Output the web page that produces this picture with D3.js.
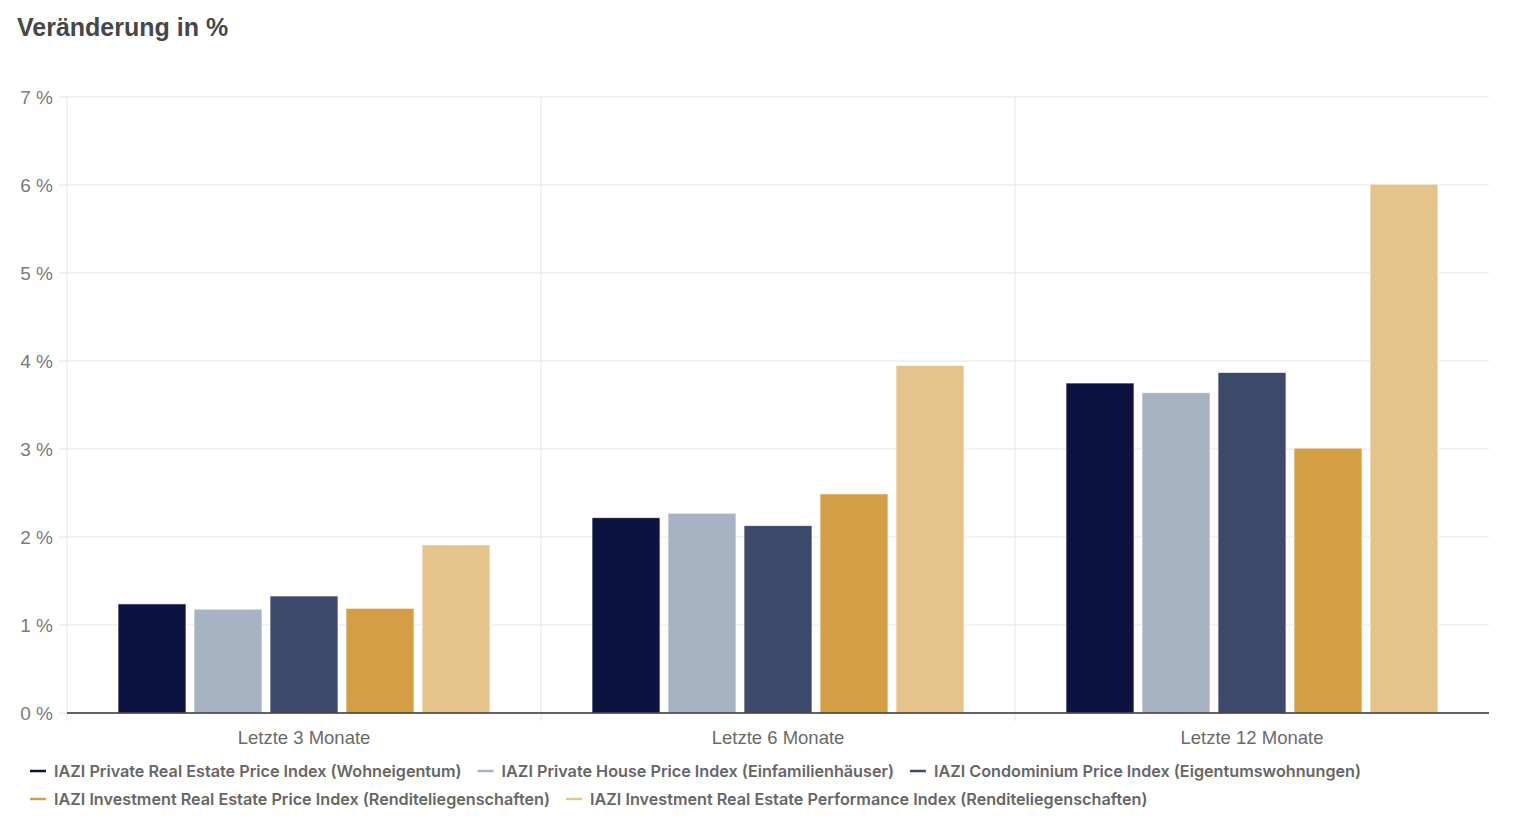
<!DOCTYPE html>
<html><head><meta charset="utf-8">
<script src="https://cdn.jsdelivr.net/npm/d3@7"></script>
<style>
body{margin:0;background:#fff;font-family:Roboto,"Noto Sans",sans-serif;}
</style></head>
<body><svg id="c" width="1515" height="823"></svg>
<script>
const categories = ["Letzte 3 Monate","Letzte 6 Monate","Letzte 12 Monate"];
const seriesNames = [
 "IAZI Private Real Estate Price Index (Wohneigentum)",
 "IAZI Private House Price Index (Einfamilienhäuser)",
 "IAZI Condominium Price Index (Eigentumswohnungen)",
 "IAZI Investment Real Estate Price Index (Renditeliegenschaften)",
 "IAZI Investment Real Estate Performance Index (Renditeliegenschaften)"
];
const privateRE = [1.24, 2.22, 3.75];
const privateHouse = [1.18, 2.27, 3.64];
const condo = [1.33, 2.13, 3.87];
const investPrice = [1.19, 2.49, 3.01];
const investPerf = [1.91, 3.95, 6.01];
const seriesValues = [privateRE, privateHouse, condo, investPrice, investPerf];
const colors = ["#0c1340","#a7b2c2","#3d4a6c","#d49e44","#e4c48a"];
const yTicks = [0,1,2,3,4,5,6,7];

const svg = d3.select("#c");
const m = {l:67, r:1489, t:97, b:713};
const x0 = d3.scaleBand().domain(categories).range([m.l, m.r]);
const x1 = d3.scaleBand().domain(d3.range(seriesNames.length)).range([0, x0.bandwidth()]).paddingInner(0.105).paddingOuter(0.671);
const y = d3.scaleLinear().domain([0,7]).range([m.b, m.t]);

svg.append("text").attr("x",17).attr("y",36).text("Veränderung in %")
  .attr("font-family","Liberation Sans, Arial, sans-serif").attr("font-weight","bold").attr("font-size",25).attr("fill","#474747");

// horizontal grid
svg.append("g").selectAll("line").data(yTicks).join("line")
  .attr("x1",m.l).attr("x2",m.r).attr("y1",d=>y(d)).attr("y2",d=>y(d))
  .attr("stroke","#e6e6e6").attr("stroke-width",1);
// vertical separators
const seps = [m.l, ...categories.slice(1).map(c=>x0(c))];
svg.append("g").selectAll("line").data(seps).join("line")
  .attr("x1",d=>d).attr("x2",d=>d).attr("y1",m.t).attr("y2",m.b+8)
  .attr("stroke","#e6e6e6").attr("stroke-width",1);
// y tick marks
svg.append("g").selectAll("line").data(yTicks).join("line")
  .attr("x1",m.l-8).attr("x2",m.l).attr("y1",d=>y(d)).attr("y2",d=>y(d))
  .attr("stroke","#e0e0e0");

// y labels
const yAxis = d3.axisLeft(y).tickValues(yTicks).tickFormat(d=>d+" %").tickSize(0).tickPadding(14);
const ga = svg.append("g").attr("transform",`translate(${m.l},0)`).call(yAxis);
ga.select(".domain").remove();
ga.selectAll("text").attr("font-family","Liberation Sans, Arial, sans-serif").attr("font-size",19).attr("fill","#7a7a7a");

// bars
const g = svg.append("g");
categories.forEach((c,ci)=>{
  seriesValues.forEach((vals,si)=>{
    g.append("rect")
      .attr("x", x0(c)+x1(si)).attr("width", x1.bandwidth())
      .attr("y", y(vals[ci])).attr("height", y(0)-y(vals[ci]))
      .attr("fill", colors[si]).attr("stroke","#fff").attr("stroke-opacity",0.7).attr("stroke-width",1);
  });
});

// x axis line
svg.append("line").attr("x1",m.l).attr("x2",m.r).attr("y1",y(0)).attr("y2",y(0)).attr("stroke","#333").attr("stroke-width",1.5);

// x labels
const xAxis = d3.axisBottom(x0).tickSize(0).tickPadding(18);
const gx = svg.append("g").attr("transform",`translate(0,${m.b})`).call(xAxis);
gx.select(".domain").remove();
gx.selectAll("text").attr("font-family","Liberation Sans, Arial, sans-serif").attr("font-size",18.5).attr("fill","#6a6a6a");

// legend
const lg = svg.append("g").attr("font-family","Inter, Roboto, sans-serif").attr("font-weight",600).attr("font-size",16.2).attr("fill","#666");
const rows = [[0,1,2],[3,4]];
rows.forEach((row,ri)=>{
  let xx = 30;
  const yy = 771 + ri*28;
  row.forEach(si=>{
    lg.append("line").attr("x1",xx).attr("x2",xx+16).attr("y1",yy).attr("y2",yy).attr("stroke",colors[si]).attr("stroke-width",2.5);
    const t = lg.append("text").attr("x",xx+24).attr("y",yy+5.5).text(seriesNames[si]);
    xx += 24 + t.node().getComputedTextLength() + 16;
  });
});
</script></body></html>
